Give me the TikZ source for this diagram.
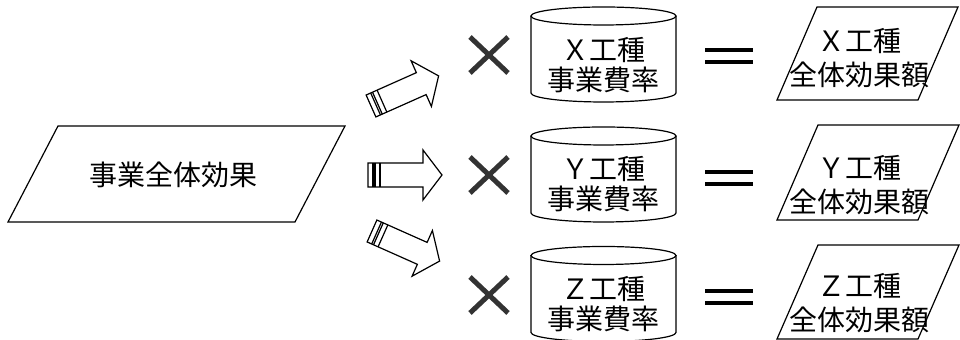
\documentclass[tikz,border=0pt]{standalone}
\usepackage{fontspec}
\setmainfont{Noto Sans CJK JP}

\begin{document}
\begin{tikzpicture}[x=0.5pt, y=-0.5pt, line width=0.6pt,
    txt/.style={font=\fontsize{14}{15}\selectfont, align=center, inner sep=0pt},
    restxt/.style={font=\fontsize{14}{17}\selectfont, align=center, inner sep=0pt},
    fatarrow/.pic={
      \draw[fill=white] (0,-12) -- (55,-12) -- (55,-25) -- (74,0) -- (55,25) -- (55,12) -- (0,12) -- cycle;
      \draw (5,-12) -- (5,12) (7,-12) -- (7,12) (12,-12) -- (12,12);
    },
    drum/.pic={
      \draw[fill=white] (-72.5,-38.5) -- (-72.5,38.5) arc[start angle=180, end angle=360, x radius=36.25pt, y radius=4.5pt] -- (72.5,-38.5);
      \draw[fill=white] (0,-38.5) ellipse[x radius=36.25pt, y radius=4.5pt];
    },
    timesmark/.pic={\draw[line width=2.5pt, black!80] (-19,-18) -- (19,18) (-19,18) -- (19,-18);},
    eqmark/.pic={\draw[line width=2pt] (-24,-6) -- (24,-6) (-24,6) -- (24,6);}]

    \useasboundingbox (0,0) rectangle (960,340);

    \draw (58,126) -- (345,126) -- (295,222) -- (8,222) -- cycle;
    \node [txt] (total) at (174,175) {事業全体効果};

    \pic [rotate=24] at (371,106) {fatarrow};
    \pic at (368,175) {fatarrow};
    \pic [rotate=-24] at (372,231) {fatarrow};

    \pic at (489,55) {timesmark};
    \pic at (489,175) {timesmark};
    \pic at (489,295) {timesmark};

    \pic at (603.5,54.5) {drum};
    \pic at (603.5,174.5) {drum};
    \pic at (603.5,294) {drum};
    \node [txt] (ratex) at (603.5,65) {Ｘ工種\\事業費率};
    \node [txt] (ratey) at (603.5,184) {Ｙ工種\\事業費率};
    \node [txt] (ratez) at (603.5,304) {Ｚ工種\\事業費率};

    \pic at (729,56) {eqmark};
    \pic at (729,178) {eqmark};
    \pic at (729,297) {eqmark};

    \draw (817,7) -- (958,7) -- (918,100) -- (777,100) -- cycle;
    \draw (818,125) -- (959,125) -- (918,220) -- (777,220) -- cycle;
    \draw (818,245) -- (959,245) -- (918,339) -- (777,339) -- cycle;
    \node [restxt] (sumx) at (859,58) {Ｘ工種\\全体効果額};
    \node [restxt] (sumy) at (859,185) {Ｙ工種\\全体効果額};
    \node [restxt] (sumz) at (859,303) {Ｚ工種\\全体効果額};

\end{tikzpicture}
\end{document}
